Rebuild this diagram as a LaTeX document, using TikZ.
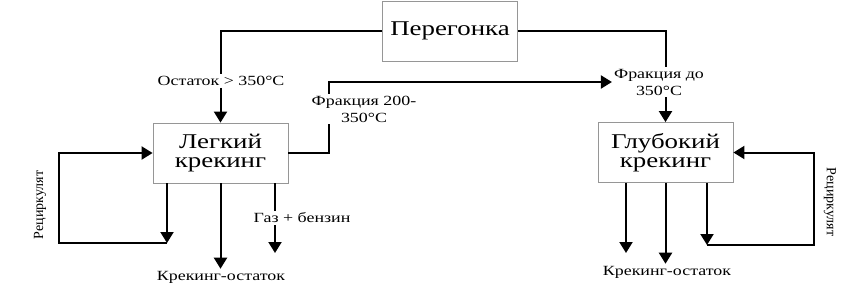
\documentclass[tikz,border=0pt]{standalone}
\usepackage{fontspec}
\setmainfont{Liberation Serif}[FakeStretch=1.28]
\newfontfamily\plainserif{Liberation Serif}
\usepackage{xcolor}
\definecolor{boxgray}{RGB}{150,150,150}
\usetikzlibrary{arrows.meta,positioning}

\begin{document}
\begin{tikzpicture}[x=1pt, y=-1pt,
        unitbox/.style={rectangle, draw=boxgray, line width=0.8pt, fill=white,
                        minimum width=135pt, minimum height=60pt, align=center,
                        font=\fontsize{21}{21}\selectfont, inner sep=2pt},
        flowlbl/.style={fill=white, align=center, inner sep=2pt,
                        font=\fontsize{14}{17}\selectfont},
        flow/.style={line width=2pt},
        arr/.style={-{Triangle[length=11pt, width=13pt]}, line width=2pt}
      ]
        \useasboundingbox (0,0) rectangle (850,300);

        % units
        \node[unitbox] (pereg) at (450, 31)  {Перегонка};
        \node[unitbox] (legk)  at (220.5,153) {Легкий\\[-2pt]крекинг};
        \node[unitbox] (glub)  at (665.5,152.5) {Глубокий\\[-2pt]крекинг};

        % free ends
        \coordinate (fr2turn) at (329, 82);
        \coordinate (recL)    at (167,243);
        \coordinate (recLc)   at (59, 243);
        \coordinate (gazEnd)  at (275,253);
        \coordinate (gOut)    at (626,253);
        \coordinate (recR)    at (707,245);
        \coordinate (recRc)   at (814,245);

        % feed from distillation
        \node[flowlbl] (lblOst)  at (221, 81) {Остаток > 350°C};
        \node[flowlbl] (lblFrDo) at (659, 82) {Фракция до\\350°C};
        \draw[flow] (pereg.west) -| (legk.north |- lblOst.north);
        \draw[arr]  (legk.north |- lblOst.south) -- (legk.north);
        \draw[flow] (pereg.east) -| (glub.north |- lblFrDo.north);
        \draw[arr]  (glub.north |- lblFrDo.south) -- (glub.north);

        % visbreaking fraction to deep cracking
        \draw[arr] (legk.east) -| (fr2turn) -- (lblFrDo.west);
        \node[flowlbl] (lblFr2) at (364,109) {Фракция 200-\\350°C};

        % visbreaking products
        \draw[arr] (legk.south -| recL) -- (recL);
        \draw[arr] (recL) -- (recLc) |- (legk.west);
        \node[flowlbl, rotate=90, font=\plainserif\fontsize{14}{17}\selectfont]
          (lblRecL) at (40,205) {Рециркулят};
        \node[flowlbl] (lblOstL) at (221,277) {Крекинг-остаток};
        \draw[arr] (legk.south) -- (legk.south |- lblOstL.north);
        \draw[arr] (legk.south -| gazEnd) -- (gazEnd);
        \node[flowlbl] (lblGaz) at (302,218) {Газ + бензин};

        % deep cracking products
        \draw[arr] (glub.south -| gOut) -- (gOut);
        \node[flowlbl] (lblOstR) at (667,272) {Крекинг-остаток};
        \draw[arr] (glub.south) -- (glub.south |- lblOstR.north);
        \draw[arr] (glub.south -| recR) -- (recR);
        \draw[arr] (recR) -- (recRc) |- (glub.east);
        \node[flowlbl, rotate=-90, font=\plainserif\fontsize{14}{17}\selectfont]
          (lblRecR) at (830,202) {Рециркулят};
      \end{tikzpicture}
\end{document}
